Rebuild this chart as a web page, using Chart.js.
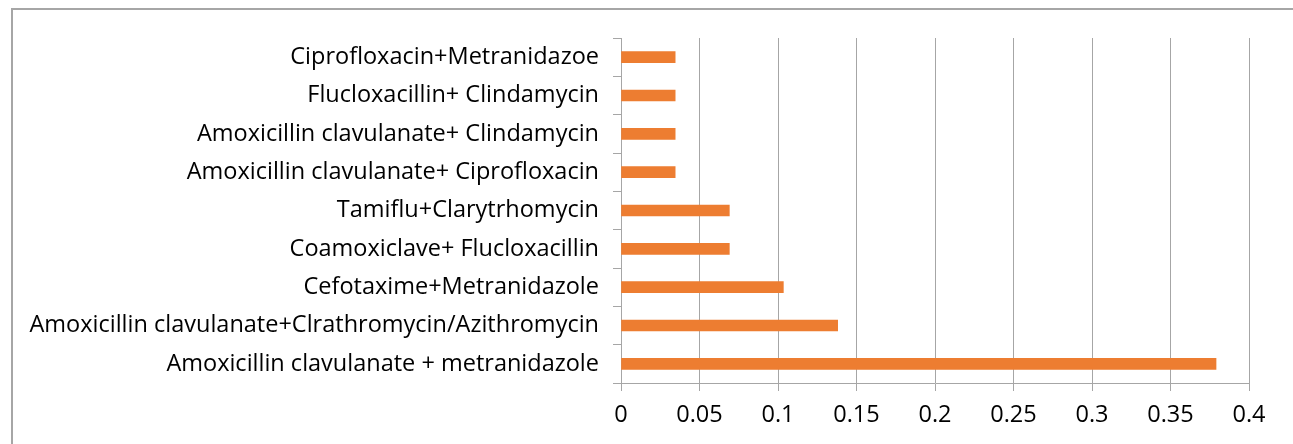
<!DOCTYPE html>
<html>
<head>
<meta charset="utf-8">
<script src="https://cdn.jsdelivr.net/npm/chart.js@4"></script>
<style>
  html, body { margin: 0; padding: 0; background: #fff; overflow: hidden; }
  #frame { position: absolute; left: 11px; top: 8px; width: 1400px; height: 600px; border: 2px solid #a6a6a6; box-sizing: border-box; }
  #wrap { position: absolute; left: 0; top: 0; width: 1293px; height: 444px; }
</style>
</head>
<body>
<div id="frame"></div>
<div id="wrap"><canvas id="comboChart"></canvas></div>
<script>
// Combinações de antibióticos (de cima para baixo)
const categories = [
  "Ciprofloxacin+Metranidazoe",
  "Flucloxacillin+ Clindamycin",
  "Amoxicillin clavulanate+ Clindamycin",
  "Amoxicillin clavulanate+ Ciprofloxacin",
  "Tamiflu+Clarytrhomycin",
  "Coamoxiclave+ Flucloxacillin",
  "Cefotaxime+Metranidazole",
  "Amoxicillin clavulanate+Clrathromycin/Azithromycin",
  "Amoxicillin clavulanate + metranidazole"
]
const values = [0.0345, 0.0345, 0.0345, 0.0345, 0.069, 0.069, 0.1034, 0.138, 0.379]
const xTicks = [0, 0.05, 0.1, 0.15, 0.2, 0.25, 0.3, 0.35, 0.4]

const fontFamily = "'Open Sans', sans-serif"

const ctx = document.getElementById("comboChart")
new Chart(ctx, {
  type: "bar",
  data: {
    labels: categories,
    datasets: [
      {
        data: values,
        backgroundColor: "#ED7D31",
        barThickness: 11,
      },
    ],
  },
  options: {
    indexAxis: "y",
    responsive: true,
    maintainAspectRatio: false,
    animation: false,
    layout: { padding: { top: 38, right: 44, bottom: 0, left: 0 } },
    plugins: {
      legend: { display: false },
      tooltip: { enabled: false },
    },
    scales: {
      x: {
        min: 0,
        max: 0.4,
        afterBuildTicks: (scale) => {
          scale.ticks = xTicks.map((v) => ({ value: v }))
        },
        afterFit: (scale) => {
          scale.height = 61
        },
        grid: { color: "#a6a6a6", lineWidth: 1, tickLength: 8 },
        border: { color: "#a6a6a6" },
        ticks: {
          color: "#000",
          padding: 10,
          maxRotation: 0,
          font: { family: fontFamily, size: 23.5 },
          callback: (value) => String(Number(value.toFixed(2))),
        },
      },
      y: {
        afterFit: (scale) => {
          scale.width = 621
        },
        grid: { drawOnChartArea: false, color: "#a6a6a6", tickLength: 8 },
        border: { color: "#a6a6a6" },
        ticks: {
          color: "#000",
          padding: 14,
          font: { family: fontFamily, size: 23.5 },
        },
      },
    },
  },
})
</script>
</body>
</html>
